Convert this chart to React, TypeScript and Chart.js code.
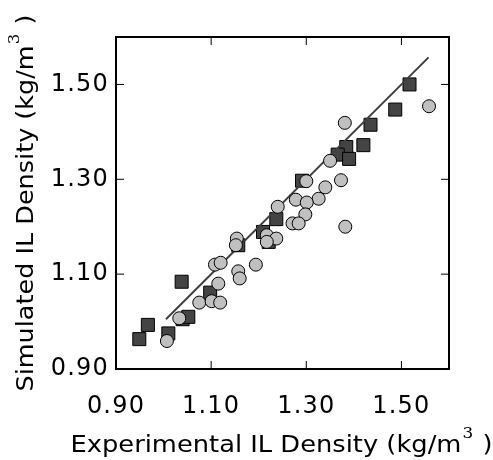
import { useEffect, useRef } from "react";
import { Chart, registerables } from "chart.js";

Chart.register(...registerables);

// Light circles
const circleX = [1.558, 1.381, 1.35, 1.373, 1.3, 1.34, 1.326, 1.278, 1.301, 1.24, 1.298, 1.271, 1.284, 1.382, 1.217, 1.237, 1.217, 1.154, 1.152, 1.108, 1.12, 1.194, 1.157, 1.16, 1.115, 1.075, 1.101, 1.119, 1.033, 1.007];
const circleY = [1.454, 1.419, 1.339, 1.298, 1.296, 1.283, 1.259, 1.257, 1.251, 1.242, 1.226, 1.207, 1.207, 1.2, 1.182, 1.175, 1.168, 1.175, 1.161, 1.12, 1.124, 1.12, 1.106, 1.091, 1.08, 1.04, 1.043, 1.04, 1.007, 0.959];

// Dark squares
const squareX = [1.517, 1.487, 1.435, 1.42, 1.384, 1.366, 1.39, 1.291, 1.237, 1.209, 1.221, 1.157, 1.038, 1.098, 1.04, 1.052, 1.01, 0.967, 0.949];
const squareY = [1.5, 1.447, 1.415, 1.372, 1.368, 1.352, 1.343, 1.297, 1.216, 1.189, 1.168, 1.161, 1.084, 1.061, 1.005, 1.01, 0.975, 0.993, 0.963];

// Parity line
const fitX = [1.005, 1.557];
const fitY = [1.005, 1.557];

const tickValues = [0.9, 1.1, 1.3, 1.5];
const xTitleParts = ["Experimental IL Density (kg/m", "3", " )"];
const yTitleParts = ["Simulated IL Density (kg/m", "3", " )"];

const MAIN_FONT = '23px "DejaVu Sans"';
const SUP_FONT = '15px "DejaVu Serif"';

function drawTitle(
  ctx: CanvasRenderingContext2D,
  parts: string[],
  cx: number,
  cy: number,
  rotate: boolean,
  targetWidth: number
) {
  ctx.save();
  (ctx as any).letterSpacing = "0px";
  ctx.translate(cx, cy);
  if (rotate) ctx.rotate(-Math.PI / 2);
  ctx.font = MAIN_FONT;
  const w0 = ctx.measureText(parts[0]).width;
  const w2 = ctx.measureText(parts[2]).width;
  ctx.font = SUP_FONT;
  const w1 = ctx.measureText(parts[1]).width;
  const total = w0 + w1 + w2 + 2;
  const sx = targetWidth / total;
  ctx.scale(sx, 1);
  let x = -total / 2;
  ctx.textAlign = "left";
  ctx.textBaseline = "alphabetic";
  ctx.fillStyle = "#000";
  ctx.font = MAIN_FONT;
  ctx.fillText(parts[0], x, 0);
  x += w0 + 1;
  ctx.font = SUP_FONT;
  ctx.fillText(parts[1], x, -14);
  x += w1 + 1;
  ctx.font = MAIN_FONT;
  ctx.fillText(parts[2], x, 0);
  ctx.restore();
}

const framePlugin = {
  id: "frame",
  beforeDraw(chart: any) {
    (chart.ctx as any).letterSpacing = "1.2px";
  },
  beforeDatasetsDraw(chart: any) {
    (chart.ctx as any).letterSpacing = "0px";
  },
  afterDatasetsDraw(chart: any) {
    const { ctx, chartArea: a, scales } = chart;
    ctx.save();
    ctx.strokeStyle = "#000";
    ctx.lineWidth = 1;
    ctx.beginPath();
    for (const v of tickValues) {
      const px = scales.x.getPixelForValue(v);
      ctx.moveTo(px, a.bottom);
      ctx.lineTo(px, a.bottom - 8);
      ctx.moveTo(px, a.top);
      ctx.lineTo(px, a.top + 8);
      const py = scales.y.getPixelForValue(v);
      ctx.moveTo(a.left, py);
      ctx.lineTo(a.left + 8, py);
      ctx.moveTo(a.right, py);
      ctx.lineTo(a.right - 8, py);
    }
    ctx.stroke();
    ctx.lineWidth = 2;
    ctx.strokeRect(a.left, a.top, a.right - a.left, a.bottom - a.top);
    ctx.restore();
  },
  afterDraw(chart: any) {
    const { ctx, chartArea: a } = chart;
    drawTitle(ctx, xTitleParts, (a.left + a.right) / 2 - 1, 452, false, 422);
    drawTitle(ctx, yTitleParts, 33, (a.top + a.bottom) / 2, true, 377);
  },
};

export default function App() {
  const ref = useRef<HTMLCanvasElement | null>(null);
  useEffect(() => {
    if (!ref.current) return;
    const setTicks = (scale: any) => {
      scale.ticks = tickValues.map((v) => ({ value: v }));
    };
    const chart = new Chart(ref.current, {
      type: "scatter",
      data: {
        datasets: [
          {
            label: "circles",
            data: circleX.map((x, i) => ({ x, y: circleY[i] })),
            pointStyle: "circle",
            pointRadius: 6.5,
            pointHoverRadius: 6.5,
            backgroundColor: "#c0c0c0",
            borderColor: "#000",
            pointBorderWidth: 1,
            borderWidth: 1,
          },
          {
            label: "fit",
            type: "line",
            data: fitX.map((x, i) => ({ x, y: fitY[i] })),
            borderColor: "#404040",
            borderWidth: 2,
            pointRadius: 0,
            fill: false,
          } as any,
          {
            label: "squares",
            data: squareX.map((x, i) => ({ x, y: squareY[i] })),
            pointStyle: "rect",
            pointRadius: 9.2,
            pointHoverRadius: 9.2,
            backgroundColor: "#444444",
            borderColor: "#000",
            pointBorderWidth: 1,
            borderWidth: 1,
          },
        ],
      },
      options: {
        responsive: false,
        animation: false,
        layout: { padding: { left: 0, top: 37, right: 44, bottom: 0 } },
        plugins: { legend: { display: false }, tooltip: { enabled: false } },
        scales: {
          x: {
            type: "linear",
            min: 0.9,
            max: 1.6,
            afterBuildTicks: setTicks,
            afterFit: (s: any) => {
              s.height = 91;
            },
            grid: { display: false, drawTicks: false },
            border: { display: false },
            ticks: {
              color: "#000",
              padding: 23,
              maxRotation: 0,
              font: { family: "DejaVu Sans", size: 24 },
              callback: (v: any) => Number(v).toFixed(2),
            },
          },
          y: {
            type: "linear",
            min: 0.9,
            max: 1.6,
            afterBuildTicks: setTicks,
            afterFit: (s: any) => {
              s.width = 116;
            },
            grid: { display: false, drawTicks: false },
            border: { display: false },
            ticks: {
              color: "#000",
              padding: 7,
              font: { family: "DejaVu Sans", size: 24 },
              callback: (v: any) => Number(v).toFixed(2),
            },
          },
        },
      },
      plugins: [framePlugin],
    });
    return () => chart.destroy();
  }, []);
  return (
    <div style={{ position: "absolute", left: 0, top: 0, width: 493, height: 460, background: "#fff" }}>
      <canvas ref={ref} width={493} height={460} />
    </div>
  );
}
